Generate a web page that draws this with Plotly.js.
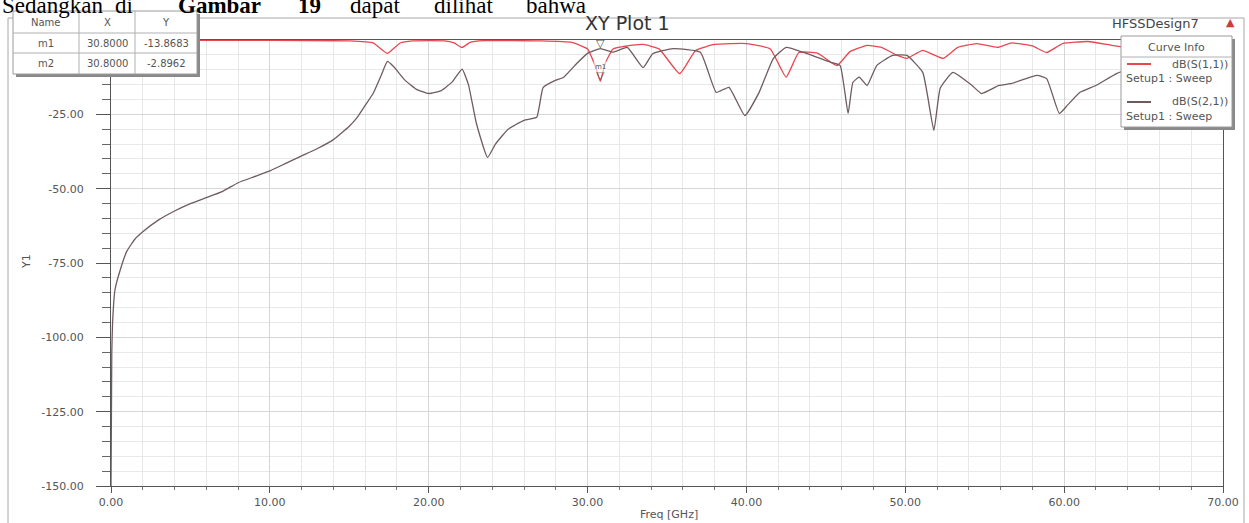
<!DOCTYPE html>
<html>
<head>
<meta charset="utf-8">
<script src="https://cdn.plot.ly/plotly-3.0.1.min.js"></script>
<style>
  html, body { margin: 0; padding: 0; background: #ffffff; }
  #chart { width: 1249px; height: 523px; }
</style>
</head>
<body>
<div id="chart"></div>
<script>
// dB(S(1,1)) sweep, frequency in GHz
const freqS11 = [0, 5, 10, 15, 16.5, 17.4, 18.2, 19, 21, 21.6, 22.1, 22.6, 23.5, 27, 29, 30, 30.5, 30.8, 31.1, 31.6, 32.5, 33.5, 34.5, 35.8, 36.8, 38, 40, 41.5, 42.5, 43.3, 44.5, 45.7, 46.5, 47.6, 48.5, 49.5, 50.1, 51.1, 52.4, 53.3, 54.5, 55.8, 56.7, 58, 58.9, 59.9, 61.5, 63, 64.5, 66, 68, 70];
const s11 = [-0.05, -0.1, -0.1, -0.3, -1, -4.5, -1, -0.3, -0.3, -1, -2.5, -0.8, -0.2, -0.3, -0.8, -3, -9, -13.8683, -8, -3, -2, -1.5, -3, -11.3, -3.5, -1.5, -1.2, -3, -12.5, -4.2, -4.5, -8.6, -4, -1.8, -2.5, -5.2, -6.2, -3.5, -6.2, -2.5, -1.2, -2.5, -1, -2, -4.2, -1.2, -0.5, -1.8, -3, -1, -0.5, -0.5];

// dB(S(2,1)) sweep, frequency in GHz
const freqS21 = [0, 0.05, 0.1, 0.25, 0.6, 1, 1.5, 2, 3, 4, 5, 6, 7, 8, 9, 10, 11, 12, 13, 14, 15, 15.5, 16, 16.5, 17, 17.4, 17.8, 18.5, 19.2, 20, 20.8, 21.5, 22.1, 22.5, 23, 23.7, 24.2, 25, 26, 26.8, 27.2, 28, 28.5, 29.3, 30, 30.8, 31.6, 32.5, 33.5, 34.1, 35.4, 37.1, 38.1, 38.9, 39.9, 40.8, 41.7, 42.5, 43.6, 45.3, 45.9, 46.4, 46.7, 47.1, 47.6, 48.2, 49.2, 50.1, 51.1, 51.8, 52.2, 53, 54.2, 54.8, 55.9, 56.7, 58.3, 58.9, 59.7, 60.2, 61, 62, 63.3, 65, 67, 70];
const s21 = [-150, -105, -95, -84, -77, -71, -67, -64.5, -60.5, -57.5, -55, -53, -51, -48, -46, -44, -41.5, -39, -36.5, -33.5, -29, -26, -22, -18, -12, -7.2, -9, -13.5, -16.5, -18, -17, -14, -9.8, -15, -28, -39.5, -35, -30, -27, -26, -16, -13.5, -12.5, -8, -4.5, -2.8962, -4.1, -2.5, -9.3, -4.6, -2.9, -4.1, -17.6, -15.9, -25.4, -17.6, -6.2, -2.5, -4.2, -7.5, -8.6, -24.7, -14.3, -12.5, -15.3, -8.6, -5.2, -5.2, -10.9, -30.4, -16.2, -10.9, -15.3, -18, -15.3, -14.6, -11.9, -13, -24.7, -22, -17.6, -15.3, -11.3, -8, -6, -5];

// Markers placed on the curves
const markerNames = ['m1', 'm2'];
const markerFreq = [30.8, 30.8];
const markerVal = [-13.8683, -2.8962];

// Axis ticks
const xTickVals = [0, 10, 20, 30, 40, 50, 60, 70];
const xTickText = ['0.00', '10.00', '20.00', '30.00', '40.00', '50.00', '60.00', '70.00'];
const yTickVals = [-150, -125, -100, -75, -50, -25];
const yTickText = ['-150.00', '-125.00', '-100.00', '-75.00', '-50.00', '-25.00'];

// Curve info entries
const curveNames = ['dB(S(1,1))', 'dB(S(2,1))'];
const curveSetup = ['Setup1 : Sweep', 'Setup1 : Sweep'];
const curveColors = ['#e8474f', '#6f5b5e'];

// Running text line above the figure (word, bold flag)
const captionWords = ['Sedangkan', 'di', 'Gambar', '19', 'dapat', 'dilihat', 'bahwa'];
const captionBold = [false, false, true, true, false, false, false];

// page geometry helpers (plot area spans x 111..1223, y 40..486)
const L = 111, R = 1223, T = 40, B = 486;
const px = v => (v - L) / (R - L);
const py = v => (B - v) / (B - T);

const FONT = 'DejaVu Sans, Verdana, sans-serif';
const GREY = '#555';
const traces = [
  {x: freqS11, y: s11, type: 'scatter', mode: 'lines', name: curveNames[0],
   line: {color: curveColors[0], width: 1.3, shape: 'spline', smoothing: 0.4}, hoverinfo: 'x+y'},
  {x: freqS21, y: s21, type: 'scatter', mode: 'lines', name: curveNames[1],
   line: {color: curveColors[1], width: 1.3, shape: 'spline', smoothing: 0.4}, hoverinfo: 'x+y'}
];

const shapes = [];
const annotations = [];

// outer frame
shapes.push({type: 'rect', xref: 'paper', yref: 'paper', x0: px(8), x1: px(1244), y0: py(18), y1: py(524),
  line: {color: '#a8a8a8', width: 1}, fillcolor: 'rgba(0,0,0,0)', layer: 'below'});

// marker table (shadow, body, grid)
const tX = [13, 79, 135, 197], tY = [11, 33, 53, 74];
shapes.push({type: 'rect', xref: 'paper', yref: 'paper', x0: px(tX[0] + 3), x1: px(tX[3] + 3), y0: py(tY[0] + 3), y1: py(tY[3] + 3),
  line: {width: 0}, fillcolor: '#8a8a8a', layer: 'above'});
shapes.push({type: 'rect', xref: 'paper', yref: 'paper', x0: px(tX[0]), x1: px(tX[3]), y0: py(tY[0]), y1: py(tY[3]),
  line: {color: '#9a9a9a', width: 1}, fillcolor: '#ffffff', layer: 'above'});
[tX[1], tX[2]].forEach(v => shapes.push({type: 'line', xref: 'paper', yref: 'paper', x0: px(v), x1: px(v), y0: py(tY[0]), y1: py(tY[3]),
  line: {color: '#b0b0b0', width: 1}, layer: 'above'}));
[tY[1], tY[2]].forEach(v => shapes.push({type: 'line', xref: 'paper', yref: 'paper', x0: px(tX[0]), x1: px(tX[3]), y0: py(v), y1: py(v),
  line: {color: '#b0b0b0', width: 1}, layer: 'above'}));
const cell = (txt, c, r) => annotations.push({xref: 'paper', yref: 'paper', x: px((tX[c] + tX[c + 1]) / 2), y: py((tY[r] + tY[r + 1]) / 2),
  text: txt, showarrow: false, xanchor: 'center', yanchor: 'middle', font: {family: FONT, size: 10, color: GREY}});
['Name', 'X', 'Y'].forEach((h, c) => cell(h, c, 0));
markerNames.forEach((n, i) => {
  cell(n, 0, i + 1);
  cell(markerFreq[i].toFixed(4), 1, i + 1);
  cell(markerVal[i].toFixed(4), 2, i + 1);
});

// markers on the curves
markerNames.forEach((n, i) => {
  annotations.push({x: markerFreq[i], y: markerVal[i], xref: 'x', yref: 'y', text: '▽', showarrow: false,
    xanchor: 'center', yanchor: 'bottom', yshift: -3, font: {family: 'DejaVu Sans', size: 11, color: GREY}});
});
annotations.push({x: markerFreq[0], y: markerVal[0], xref: 'x', yref: 'y', text: markerNames[0], showarrow: false,
  xanchor: 'center', yanchor: 'bottom', yshift: 8, font: {family: FONT, size: 7, color: GREY}, bgcolor: 'rgba(255,255,255,0.6)'});

// curve info box
const lb = {x0: 1121, x1: 1232, y0: 36, y1: 127};
shapes.push({type: 'rect', xref: 'paper', yref: 'paper', x0: px(lb.x0 + 3), x1: px(lb.x1 + 3), y0: py(lb.y0 + 3), y1: py(lb.y1 + 3),
  line: {width: 0}, fillcolor: '#8a8a8a', layer: 'above'});
shapes.push({type: 'rect', xref: 'paper', yref: 'paper', x0: px(lb.x0), x1: px(lb.x1), y0: py(lb.y0), y1: py(lb.y1),
  line: {color: '#9a9a9a', width: 1}, fillcolor: '#ffffff', layer: 'above'});
shapes.push({type: 'line', xref: 'paper', yref: 'paper', x0: px(lb.x0), x1: px(lb.x1), y0: py(57), y1: py(57),
  line: {color: '#b0b0b0', width: 1}, layer: 'above'});
annotations.push({xref: 'paper', yref: 'paper', x: px((lb.x0 + lb.x1) / 2), y: py(47), text: 'Curve Info', showarrow: false,
  xanchor: 'center', yanchor: 'middle', font: {family: FONT, size: 11, color: GREY}});
const rowY = [64, 102];
curveNames.forEach((n, i) => {
  shapes.push({type: 'line', xref: 'paper', yref: 'paper', x0: px(1127), x1: px(1151), y0: py(rowY[i]), y1: py(rowY[i]),
    line: {color: curveColors[i], width: 2}, layer: 'above'});
  annotations.push({xref: 'paper', yref: 'paper', x: px(1230), y: py(rowY[i]), text: n, showarrow: false,
    xanchor: 'right', yanchor: 'middle', font: {family: FONT, size: 11, color: GREY}});
  annotations.push({xref: 'paper', yref: 'paper', x: px(1124), y: py(rowY[i] + 14), text: curveSetup[i], showarrow: false,
    xanchor: 'left', yanchor: 'middle', font: {family: FONT, size: 11, color: GREY}});
});

// header texts
annotations.push({xref: 'paper', yref: 'paper', x: px(1155), y: py(23), text: 'HFSSDesign7', showarrow: false,
  xanchor: 'center', yanchor: 'middle', font: {family: FONT, size: 13, color: '#444'}});
annotations.push({xref: 'paper', yref: 'paper', x: px(1230), y: py(22), text: '▲', showarrow: false,
  xanchor: 'center', yanchor: 'middle', font: {family: 'DejaVu Sans', size: 11, color: '#d03a3a'}});
annotations.push({xref: 'paper', yref: 'paper', x: px(627), y: py(23), text: 'XY Plot 1', showarrow: false,
  xanchor: 'center', yanchor: 'middle', font: {family: FONT, size: 19, color: '#333'}});

// axis titles
annotations.push({xref: 'paper', yref: 'paper', x: px(669), y: py(514), text: 'Freq [GHz]', showarrow: false,
  xanchor: 'center', yanchor: 'middle', font: {family: FONT, size: 11, color: GREY}});
annotations.push({xref: 'paper', yref: 'paper', x: px(26), y: py(262), text: 'Y1', showarrow: false, textangle: -90,
  xanchor: 'center', yanchor: 'middle', font: {family: FONT, size: 11, color: GREY}});

// running text line above the figure, one word at a time
const captionX = [0, 113, 176, 296, 348, 432, 524];
captionWords.forEach((w, i) => {
  annotations.push({xref: 'paper', yref: 'paper', x: px(captionX[i]), y: py(-9), showarrow: false,
    xanchor: 'left', yanchor: 'top', text: captionBold[i] ? '<b>' + w + '</b>' : w,
    font: {family: 'Liberation Serif, Times New Roman, serif', size: 23, color: '#000'}});
});

const layout = {
  width: 1249, height: 523,
  margin: {l: L, r: 1249 - R, t: T, b: 523 - B, pad: 0},
  paper_bgcolor: '#ffffff', plot_bgcolor: '#ffffff',
  showlegend: false,
  xaxis: {
    range: [0, 70], tickvals: xTickVals, ticktext: xTickText,
    showline: true, linecolor: GREY, linewidth: 1, mirror: true,
    ticks: 'outside', ticklen: 6, tickcolor: GREY,
    showgrid: true, gridcolor: '#d6d6d6', gridwidth: 1, zeroline: false,
    minor: {dtick: 2, showgrid: true, gridcolor: '#e8e8e8', ticks: 'outside', ticklen: 3, tickcolor: '#777'},
    tickfont: {family: FONT, size: 11, color: GREY}
  },
  yaxis: {
    range: [-150, 0], tickvals: yTickVals, ticktext: yTickText,
    showline: true, linecolor: GREY, linewidth: 1, mirror: true,
    ticks: 'outside', ticklen: 14, tickcolor: GREY, ticklabelstandoff: 10,
    showgrid: true, gridcolor: '#d6d6d6', gridwidth: 1, zeroline: false,
    minor: {dtick: 5, showgrid: true, gridcolor: '#e8e8e8', ticks: 'outside', ticklen: 8, tickcolor: '#666'},
    tickfont: {family: FONT, size: 11, color: GREY}
  },
  shapes: shapes,
  annotations: annotations
};

Plotly.newPlot('chart', traces, layout, {displayModeBar: false, staticPlot: true});
</script>
</body>
</html>
